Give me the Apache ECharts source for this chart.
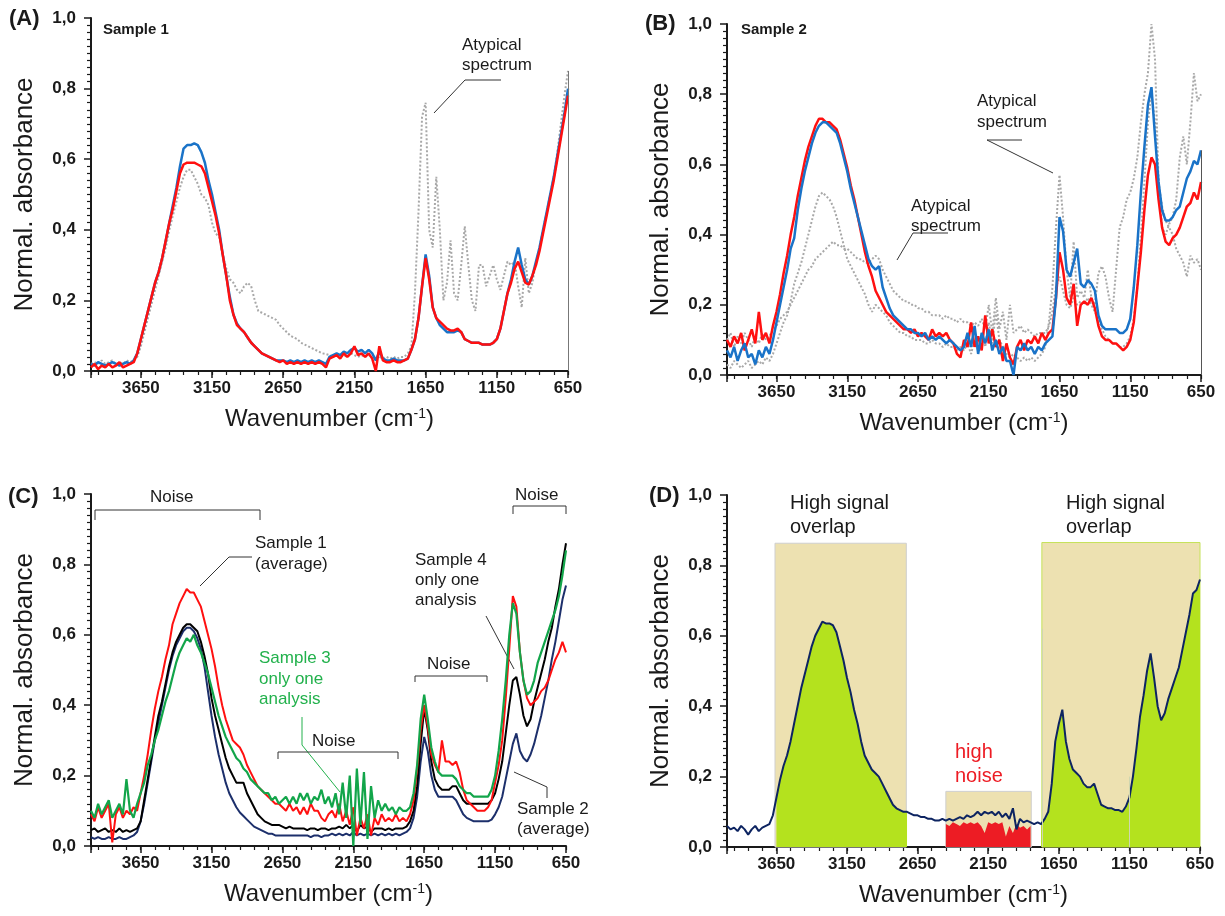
<!DOCTYPE html>
<html>
<head>
<meta charset="utf-8">
<script src="https://cdn.jsdelivr.net/npm/echarts@6/dist/echarts.min.js"></script>
<style>
html, body { margin: 0; padding: 0; background: #fff; }
#chart { width: 1225px; height: 916px; }
</style>
</head>
<body>
<div id="chart"></div>
<script>
// sampling grid of all spectra: 4000 -> 650 cm-1, every 25 cm-1
const wavenumbers = [];
for (let w = 4000; w >= 650; w -= 25) wavenumbers.push(w);

const xTicks = [650, 1150, 1650, 2150, 2650, 3150, 3650];
const yTicks = ['0,0', '0,2', '0,4', '0,6', '0,8', '1,0'];

// (A) sample 1
const aBlue = [
  0.02, 0.015, 0.025, 0.02, 0.015, 0.02, 0.025, 0.02, 0.015, 0.02, 0.025, 0.02, 0.03, 0.05, 0.09, 0.13, 0.17, 0.21, 0.25, 0.28,
  0.32, 0.37, 0.42, 0.47, 0.52, 0.58, 0.63, 0.64, 0.64, 0.645, 0.64, 0.62, 0.59, 0.54, 0.50, 0.45, 0.40, 0.33, 0.27, 0.21,
  0.16, 0.135, 0.12, 0.11, 0.095, 0.08, 0.07, 0.06, 0.05, 0.045, 0.04, 0.035, 0.03, 0.03, 0.03, 0.025, 0.03, 0.025, 0.03, 0.025,
  0.03, 0.025, 0.03, 0.025, 0.03, 0.025, 0.02, 0.04, 0.045, 0.05, 0.045, 0.055, 0.05, 0.06, 0.065, 0.055, 0.06, 0.05, 0.06, 0.05,
  0.03, 0.055, 0.035, 0.03, 0.03, 0.035, 0.03, 0.03, 0.03, 0.035, 0.06, 0.09, 0.15, 0.24, 0.33, 0.27, 0.18, 0.15, 0.13, 0.12,
  0.11, 0.11, 0.11, 0.115, 0.11, 0.09, 0.085, 0.08, 0.08, 0.08, 0.075, 0.075, 0.075, 0.08, 0.09, 0.12, 0.17, 0.22, 0.26, 0.31,
  0.35, 0.30, 0.26, 0.245, 0.27, 0.31, 0.35, 0.40, 0.45, 0.50, 0.55, 0.61, 0.67, 0.73, 0.80
];
const aRed = [
  0.01, 0.02, 0.005, 0.015, 0.01, 0.02, 0.01, 0.015, 0.025, 0.01, 0.015, 0.02, 0.025, 0.05, 0.09, 0.13, 0.17, 0.21, 0.25, 0.28,
  0.32, 0.37, 0.42, 0.46, 0.51, 0.56, 0.585, 0.59, 0.59, 0.59, 0.585, 0.58, 0.56, 0.52, 0.48, 0.44, 0.39, 0.33, 0.27, 0.20,
  0.16, 0.13, 0.12, 0.11, 0.095, 0.08, 0.07, 0.06, 0.05, 0.045, 0.04, 0.035, 0.03, 0.025, 0.03, 0.02, 0.025, 0.02, 0.025, 0.02,
  0.025, 0.02, 0.025, 0.02, 0.025, 0.02, 0.01, 0.035, 0.04, 0.045, 0.035, 0.05, 0.04, 0.05, 0.07, 0.045, 0.05, 0.04, 0.05, 0.035,
  0.0, 0.07, 0.03, 0.025, 0.025, 0.03, 0.025, 0.025, 0.03, 0.035, 0.06, 0.09, 0.15, 0.24, 0.32, 0.26, 0.18, 0.15, 0.14, 0.13,
  0.12, 0.115, 0.115, 0.12, 0.11, 0.09, 0.085, 0.08, 0.08, 0.08, 0.075, 0.075, 0.075, 0.08, 0.09, 0.12, 0.17, 0.22, 0.25, 0.29,
  0.31, 0.28, 0.25, 0.245, 0.27, 0.30, 0.34, 0.39, 0.44, 0.49, 0.54, 0.60, 0.66, 0.72, 0.78
];
const aAtypical = [
  0.02, 0.025, 0.02, 0.03, 0.02, 0.025, 0.03, 0.02, 0.025, 0.02, 0.03, 0.025, 0.03, 0.04, 0.07, 0.11, 0.15, 0.19, 0.23, 0.27,
  0.31, 0.35, 0.40, 0.44, 0.48, 0.52, 0.55, 0.57, 0.57, 0.55, 0.53, 0.50, 0.49, 0.47, 0.42, 0.39, 0.38, 0.33, 0.29, 0.26,
  0.25, 0.23, 0.22, 0.24, 0.25, 0.24, 0.20, 0.17, 0.165, 0.16, 0.155, 0.15, 0.145, 0.13, 0.12, 0.11, 0.10, 0.095, 0.09, 0.08,
  0.075, 0.07, 0.065, 0.06, 0.055, 0.05, 0.048, 0.045, 0.04, 0.045, 0.04, 0.045, 0.04, 0.05, 0.045, 0.04, 0.045, 0.04, 0.045, 0.04,
  0.035, 0.04, 0.035, 0.04, 0.035, 0.04, 0.035, 0.04, 0.04, 0.05, 0.07, 0.22, 0.45, 0.72, 0.76, 0.40, 0.35, 0.55, 0.40, 0.20,
  0.25, 0.37, 0.22, 0.20, 0.30, 0.41, 0.30, 0.20, 0.17, 0.30, 0.30, 0.24, 0.27, 0.30, 0.26, 0.23, 0.27, 0.31, 0.30, 0.31,
  0.24, 0.18, 0.32, 0.22, 0.25, 0.31, 0.35, 0.40, 0.45, 0.50, 0.55, 0.62, 0.70, 0.78, 0.85
];

// (B) sample 2
const bBlue = [
  0.07, 0.05, 0.08, 0.04, 0.07, 0.09, 0.05, 0.06, 0.03, 0.07, 0.05, 0.08, 0.06, 0.10, 0.15, 0.20, 0.25, 0.30, 0.36, 0.39,
  0.47, 0.53, 0.58, 0.62, 0.66, 0.69, 0.71, 0.72, 0.72, 0.71, 0.70, 0.69, 0.66, 0.62, 0.58, 0.53, 0.49, 0.45, 0.41, 0.37,
  0.33, 0.31, 0.30, 0.31, 0.25, 0.22, 0.19, 0.17, 0.16, 0.15, 0.14, 0.13, 0.13, 0.12, 0.12, 0.11, 0.12, 0.10, 0.11, 0.10,
  0.11, 0.10, 0.09, 0.10, 0.09, 0.08, 0.07, 0.08, 0.12, 0.08, 0.14, 0.06, 0.12, 0.09, 0.13, 0.07, 0.10, 0.06, 0.08, 0.04,
  0.04, 0.00, 0.08, 0.07, 0.09, 0.07, 0.08, 0.06, 0.08, 0.07, 0.09, 0.10, 0.11, 0.22, 0.45, 0.41, 0.30, 0.28, 0.32, 0.36,
  0.26, 0.25, 0.27, 0.26, 0.24, 0.17, 0.14, 0.13, 0.13, 0.13, 0.13, 0.12, 0.12, 0.13, 0.16, 0.25, 0.37, 0.52, 0.65, 0.77,
  0.82, 0.68, 0.55, 0.47, 0.44, 0.44, 0.45, 0.47, 0.48, 0.52, 0.56, 0.58, 0.61, 0.60, 0.64
];
const bRed = [
  0.10, 0.08, 0.11, 0.09, 0.12, 0.07, 0.10, 0.13, 0.09, 0.18, 0.10, 0.12, 0.09, 0.14, 0.18, 0.23, 0.29, 0.34, 0.40, 0.45,
  0.51, 0.56, 0.61, 0.65, 0.68, 0.71, 0.73, 0.73, 0.72, 0.72, 0.71, 0.70, 0.67, 0.63, 0.59, 0.54, 0.50, 0.45, 0.40, 0.35,
  0.31, 0.28, 0.24, 0.22, 0.20, 0.18, 0.17, 0.16, 0.15, 0.14, 0.13, 0.13, 0.12, 0.13, 0.11, 0.12, 0.11, 0.10, 0.13, 0.11,
  0.12, 0.11, 0.12, 0.10, 0.09, 0.06, 0.05, 0.10, 0.08, 0.15, 0.08, 0.11, 0.07, 0.17, 0.09, 0.13, 0.08, 0.10, 0.04, 0.09,
  0.05, 0.03, 0.08, 0.10, 0.07, 0.10, 0.09, 0.11, 0.09, 0.12, 0.10, 0.12, 0.13, 0.22, 0.35, 0.30, 0.22, 0.20, 0.26, 0.14,
  0.20, 0.21, 0.20, 0.22, 0.19, 0.14, 0.11, 0.10, 0.10, 0.09, 0.09, 0.08, 0.07, 0.08, 0.10, 0.15, 0.25, 0.35, 0.47, 0.57,
  0.62, 0.60, 0.50, 0.42, 0.38, 0.37, 0.39, 0.40, 0.42, 0.45, 0.48, 0.49, 0.52, 0.50, 0.55
];
const bAtypical1 = [
  0.03, 0.02, 0.04, 0.03, 0.02, 0.03, 0.04, 0.02, 0.03, 0.04, 0.03, 0.05, 0.04, 0.06, 0.09, 0.12, 0.15, 0.17, 0.21, 0.26,
  0.29, 0.32, 0.36, 0.40, 0.44, 0.48, 0.51, 0.52, 0.51, 0.50, 0.48, 0.45, 0.41, 0.37, 0.33, 0.31, 0.29, 0.27, 0.25, 0.23,
  0.20, 0.18, 0.20, 0.19, 0.18, 0.17, 0.15, 0.14, 0.13, 0.12, 0.12, 0.11, 0.11, 0.10, 0.10, 0.10, 0.09, 0.09, 0.10, 0.09,
  0.09, 0.08, 0.09, 0.08, 0.08, 0.07, 0.08, 0.07, 0.09, 0.06, 0.10, 0.07, 0.12, 0.08, 0.15, 0.09, 0.18, 0.10, 0.08, 0.06,
  0.05, 0.06, 0.05, 0.04, 0.05, 0.04, 0.05, 0.04, 0.05, 0.06, 0.08, 0.15, 0.25, 0.42, 0.57, 0.45, 0.30, 0.22, 0.38, 0.22,
  0.24, 0.22, 0.30, 0.22, 0.20, 0.29, 0.31, 0.28, 0.22, 0.18, 0.30, 0.42, 0.45, 0.50, 0.52, 0.56, 0.62, 0.72, 0.80, 0.86,
  1.0, 0.90, 0.55, 0.42, 0.40, 0.43, 0.45, 0.50, 0.62, 0.68, 0.60, 0.72, 0.86, 0.78, 0.80
];
const bAtypical2 = [
  0.10, 0.12, 0.08, 0.11, 0.09, 0.12, 0.10, 0.08, 0.11, 0.09, 0.12, 0.10, 0.11, 0.13, 0.14, 0.16, 0.17, 0.18, 0.20, 0.22,
  0.24, 0.26, 0.28, 0.30, 0.31, 0.33, 0.34, 0.35, 0.36, 0.37, 0.38, 0.37, 0.37, 0.36, 0.36, 0.35, 0.34, 0.33, 0.33, 0.32,
  0.32, 0.33, 0.34, 0.33, 0.30, 0.28, 0.26, 0.24, 0.23, 0.22, 0.21, 0.21, 0.20, 0.20, 0.19, 0.19, 0.18, 0.18, 0.17, 0.17,
  0.17, 0.16, 0.17, 0.16, 0.16, 0.15, 0.16, 0.15, 0.15, 0.14, 0.15, 0.14, 0.16, 0.13, 0.20, 0.12, 0.22, 0.13, 0.18, 0.10,
  0.20, 0.12, 0.13, 0.14, 0.12, 0.13, 0.12, 0.11, 0.12, 0.12, 0.12, 0.14, 0.18, 0.25, 0.28, 0.24, 0.20, 0.19, 0.22, 0.20,
  0.21, 0.20, 0.22, 0.20, 0.18, 0.16, 0.13, 0.11, 0.10, 0.09, 0.09, 0.08, 0.08, 0.09, 0.11, 0.16, 0.25, 0.40, 0.55, 0.72,
  0.80, 0.72, 0.55, 0.48, 0.44, 0.42, 0.40, 0.36, 0.34, 0.32, 0.28, 0.34, 0.32, 0.33, 0.30
];

// (C) comparison of samples
const cSample1 = [
  0.09, 0.07, 0.11, 0.08, 0.10, 0.12, 0.01, 0.09, 0.11, 0.08, 0.10, 0.09, 0.11, 0.10, 0.15, 0.20, 0.26, 0.33, 0.39, 0.44,
  0.48, 0.53, 0.57, 0.63, 0.66, 0.69, 0.71, 0.73, 0.72, 0.72, 0.70, 0.68, 0.64, 0.60, 0.56, 0.51, 0.45, 0.40, 0.36, 0.33,
  0.30, 0.29, 0.28, 0.26, 0.23, 0.21, 0.19, 0.17, 0.16, 0.15, 0.14, 0.13, 0.12, 0.12, 0.11, 0.10, 0.12, 0.10, 0.11, 0.09,
  0.11, 0.09, 0.12, 0.10, 0.10, 0.08, 0.07, 0.09, 0.10, 0.08, 0.12, 0.07, 0.10, 0.06, 0.11, 0.03, 0.08, 0.05, 0.09, 0.03,
  0.08, 0.06, 0.09, 0.07, 0.08, 0.07, 0.09, 0.07, 0.08, 0.07, 0.09, 0.13, 0.22, 0.33, 0.40, 0.34, 0.26, 0.23, 0.21, 0.30,
  0.24, 0.24, 0.23, 0.24, 0.21, 0.16, 0.13, 0.12, 0.11, 0.10, 0.10, 0.10, 0.11, 0.13, 0.18, 0.23, 0.30, 0.42, 0.56, 0.71,
  0.68, 0.55, 0.47, 0.42, 0.40, 0.41, 0.42, 0.44, 0.45, 0.47, 0.50, 0.53, 0.55, 0.58, 0.55
];
const cSample4 = [
  0.045, 0.05, 0.04, 0.045, 0.05, 0.04, 0.045, 0.04, 0.05, 0.04, 0.045, 0.04, 0.045, 0.05, 0.07, 0.13, 0.19, 0.25, 0.31, 0.37,
  0.41, 0.46, 0.51, 0.55, 0.58, 0.60, 0.62, 0.63, 0.63, 0.62, 0.61, 0.58, 0.54, 0.49, 0.42, 0.37, 0.33, 0.29, 0.25, 0.22,
  0.20, 0.18, 0.18, 0.18, 0.15, 0.13, 0.11, 0.09, 0.08, 0.07, 0.065, 0.06, 0.06, 0.06, 0.055, 0.05, 0.055, 0.05, 0.05, 0.05,
  0.05, 0.045, 0.05, 0.05, 0.045, 0.05, 0.05, 0.045, 0.05, 0.05, 0.055, 0.05, 0.06, 0.05, 0.06, 0.04, 0.06, 0.05, 0.055, 0.04,
  0.05, 0.05, 0.05, 0.045, 0.05, 0.045, 0.05, 0.05, 0.05, 0.055, 0.07, 0.10, 0.17, 0.29, 0.39, 0.33, 0.24, 0.19, 0.17, 0.16,
  0.16, 0.16, 0.17, 0.17, 0.15, 0.13, 0.12, 0.12, 0.12, 0.12, 0.12, 0.12, 0.12, 0.13, 0.15, 0.19, 0.24, 0.32, 0.40, 0.47,
  0.48, 0.43, 0.37, 0.34, 0.36, 0.41, 0.45, 0.49, 0.53, 0.58, 0.62, 0.68, 0.73, 0.80, 0.86
];
const cSample2 = [
  0.025, 0.02, 0.025, 0.02, 0.02, 0.025, 0.02, 0.02, 0.025, 0.02, 0.02, 0.025, 0.03, 0.04, 0.07, 0.12, 0.18, 0.24, 0.30, 0.35,
  0.40, 0.45, 0.50, 0.54, 0.57, 0.59, 0.61, 0.62, 0.62, 0.61, 0.59, 0.56, 0.51, 0.44, 0.37, 0.31, 0.26, 0.22, 0.18, 0.15,
  0.13, 0.11, 0.095, 0.085, 0.075, 0.065, 0.055, 0.05, 0.045, 0.04, 0.035, 0.035, 0.03, 0.03, 0.03, 0.03, 0.03, 0.03, 0.03, 0.03,
  0.03, 0.03, 0.025, 0.03, 0.03, 0.025, 0.03, 0.03, 0.035, 0.03, 0.035, 0.03, 0.035, 0.03, 0.04, 0.03, 0.035, 0.03, 0.035, 0.03,
  0.035, 0.03, 0.035, 0.03, 0.035, 0.03, 0.035, 0.03, 0.035, 0.04, 0.05, 0.08, 0.14, 0.24, 0.31, 0.27, 0.20, 0.16, 0.14, 0.14,
  0.14, 0.14, 0.14, 0.13, 0.11, 0.09, 0.08, 0.075, 0.07, 0.07, 0.07, 0.07, 0.07, 0.075, 0.09, 0.11, 0.14, 0.19, 0.24, 0.29,
  0.32, 0.27, 0.25, 0.24, 0.26, 0.29, 0.33, 0.37, 0.42, 0.47, 0.53, 0.58, 0.64, 0.70, 0.74
];
const cSample3 = [
  0.10, 0.08, 0.12, 0.09, 0.11, 0.13, 0.08, 0.10, 0.12, 0.09, 0.19, 0.10, 0.08, 0.12, 0.15, 0.18, 0.23, 0.26, 0.30, 0.33,
  0.37, 0.41, 0.44, 0.48, 0.52, 0.55, 0.57, 0.59, 0.58, 0.60, 0.57, 0.55, 0.52, 0.49, 0.45, 0.41, 0.37, 0.34, 0.31, 0.29,
  0.27, 0.25, 0.24, 0.22, 0.21, 0.19, 0.18, 0.17, 0.16, 0.15, 0.15, 0.13, 0.14, 0.12, 0.13, 0.14, 0.12, 0.14, 0.12, 0.15,
  0.13, 0.15, 0.12, 0.14, 0.13, 0.16, 0.12, 0.14, 0.11, 0.15, 0.09, 0.18, 0.08, 0.20, 0.00, 0.22, 0.06, 0.21, 0.02, 0.17,
  0.08, 0.13, 0.10, 0.12, 0.10, 0.11, 0.09, 0.11, 0.10, 0.10, 0.11, 0.15, 0.23, 0.36, 0.43, 0.36, 0.28, 0.24, 0.21, 0.20,
  0.20, 0.20, 0.20, 0.19, 0.17, 0.16, 0.15, 0.15, 0.14, 0.14, 0.14, 0.14, 0.14, 0.16, 0.20, 0.27, 0.36, 0.47, 0.60, 0.69,
  0.66, 0.55, 0.47, 0.43, 0.44, 0.47, 0.52, 0.55, 0.58, 0.61, 0.64, 0.67, 0.71, 0.77, 0.84
];

// (D) reference spectrum with the overlap / noise regions
const dSpectrum = [
  0.06, 0.05, 0.055, 0.045, 0.06, 0.05, 0.035, 0.05, 0.06, 0.045, 0.055, 0.06, 0.065, 0.09, 0.14, 0.19, 0.23, 0.26, 0.30, 0.35,
  0.40, 0.45, 0.49, 0.53, 0.57, 0.60, 0.62, 0.64, 0.635, 0.635, 0.63, 0.61, 0.57, 0.53, 0.48, 0.44, 0.39, 0.35, 0.30, 0.26,
  0.24, 0.22, 0.21, 0.20, 0.18, 0.16, 0.14, 0.12, 0.11, 0.105, 0.10, 0.10, 0.095, 0.09, 0.09, 0.085, 0.085, 0.08, 0.08, 0.075,
  0.075, 0.08, 0.075, 0.08, 0.075, 0.08, 0.085, 0.08, 0.09, 0.085, 0.09, 0.10, 0.09, 0.10, 0.095, 0.10, 0.09, 0.10, 0.085, 0.095,
  0.08, 0.11, 0.05, 0.08, 0.07, 0.075, 0.07, 0.065, 0.07, 0.065, 0.08, 0.10, 0.18, 0.30, 0.35, 0.39, 0.30, 0.25, 0.22, 0.21,
  0.20, 0.18, 0.17, 0.17, 0.18, 0.15, 0.12, 0.115, 0.11, 0.11, 0.105, 0.105, 0.10, 0.115, 0.14, 0.20, 0.28, 0.37, 0.43, 0.50,
  0.55, 0.48, 0.40, 0.36, 0.38, 0.42, 0.45, 0.48, 0.51, 0.56, 0.61, 0.66, 0.72, 0.73, 0.76
];
// red "high noise" fill, 2450 -> 1850 cm-1
const dNoiseFill = [
  0.065, 0.06, 0.07, 0.065, 0.06, 0.07, 0.065, 0.07, 0.065, 0.07, 0.06, 0.04, 0.07,
  0.065, 0.07, 0.065, 0.07, 0.03, 0.06, 0.04, 0.065, 0.055, 0.06, 0.05, 0.06
];
// shaded boxes [from, to, top]
const dBoxes = [[3660, 2730, 0.863], [2450, 1845, 0.158], [1770, 650, 0.865]];

const FONT = '"Liberation Sans", Arial, sans-serif';
const INK = '#1a1a1a';

const grids = [
  { left: 91, top: 18, width: 477, height: 353 },
  { left: 727, top: 24, width: 474, height: 351 },
  { left: 91, top: 494, width: 475, height: 352 },
  { left: 727, top: 495, width: 473, height: 352 }
];

const xAxes = [];
const yAxes = [];
grids.forEach(function (g, i) {
  xAxes.push({
    gridIndex: i, type: 'value', position: 'bottom', min: 650, max: 4000, interval: 500, inverse: true,
    axisLine: { lineStyle: { color: INK, width: 2 } },
    axisTick: { length: 7, lineStyle: { color: INK, width: 1.5 } },
    axisLabel: {
      margin: 9, color: INK, fontWeight: 'bold', fontSize: 17, fontFamily: FONT,
      formatter: function (v) { return xTicks.indexOf(v) >= 0 ? String(v) : ''; }
    },
    splitLine: { show: false },
    name: '{t|Wavenumber (cm}{s|-1}{t|)}', nameLocation: 'middle', nameGap: 36,
    nameTextStyle: {
      rich: {
        t: { fontSize: 24, fontFamily: FONT, color: INK },
        s: { fontSize: 14, fontFamily: FONT, color: INK, verticalAlign: 'top' }
      }
    }
  });
  // short ticks every 100 cm-1
  xAxes.push({
    gridIndex: i, type: 'value', position: 'bottom', min: 650, max: 4000, interval: 100, inverse: true,
    axisLine: { show: false },
    axisTick: { length: 4, lineStyle: { color: INK, width: 1.2 } },
    axisLabel: { show: false },
    splitLine: { show: false }
  });
  yAxes.push({
    gridIndex: i, type: 'value', min: 0, max: 1, interval: 0.2,
    axisLine: { show: true, lineStyle: { color: INK, width: 2 } },
    axisTick: { show: true, length: 7, lineStyle: { color: INK, width: 1.5 } },
    minorTick: { show: true, splitNumber: 10, length: 4, lineStyle: { color: INK, width: 1.2 } },
    axisLabel: {
      margin: 15, color: INK, fontWeight: 'bold', fontSize: 17, fontFamily: FONT,
      formatter: function (v) { return yTicks[Math.round(v * 5)]; }
    },
    splitLine: { show: false },
    name: 'Normal. absorbance', nameLocation: 'middle', nameGap: 53,
    nameTextStyle: { fontSize: 26, fontFamily: FONT, color: INK }
  });
});

function spectrum(panel, values, color, width, extra) {
  return Object.assign({
    type: 'line', xAxisIndex: panel * 2, yAxisIndex: panel,
    data: wavenumbers.map(function (w, k) { return [w, values[k]]; }),
    showSymbol: false, symbol: 'none', silent: true,
    lineStyle: { color: color, width: width }
  }, extra || {});
}

function segment(x, y0, y1, color) {
  return {
    silent: true, symbol: ['none', 'none'], label: { show: false },
    lineStyle: { color: color, width: 1, type: 'solid' },
    data: [[{ coord: [x, y0] }, { coord: [x, y1] }]]
  };
}

const dGreenLeft = wavenumbers.slice(14, 52).map(function (w, k) { return [w, dSpectrum[14 + k]]; });
const dGreenRight = wavenumbers.slice(89).map(function (w, k) { return [w, dSpectrum[89 + k]]; });
const dNoise = wavenumbers.slice(62, 87).map(function (w, k) { return [w, dNoiseFill[k]]; });

const dotted = { color: '#a8a8a8', width: 2, type: 'dotted' };

const series = [
  spectrum(0, aAtypical, '#a8a8a8', 2, { lineStyle: dotted, markLine: segment(650, 0, 0.85, '#777') }),
  spectrum(0, aBlue, '#1a73c8', 2.5),
  spectrum(0, aRed, '#ff1010', 2.5),

  spectrum(1, bAtypical2, '#a8a8a8', 2, { lineStyle: dotted }),
  spectrum(1, bAtypical1, '#a8a8a8', 2, { lineStyle: dotted, markLine: segment(650, 0, 0.64, '#555') }),
  spectrum(1, bRed, '#ff1010', 2.5),
  spectrum(1, bBlue, '#1a73c8', 2.5),

  spectrum(2, cSample2, '#1c2f6b', 2),
  spectrum(2, cSample4, '#000000', 2),
  spectrum(2, cSample1, '#ff1010', 2),
  spectrum(2, cSample3, '#12a54a', 2.2),

  {
    type: 'line', xAxisIndex: 6, yAxisIndex: 3, data: [], silent: true, z: 1,
    markArea: {
      silent: true,
      data: dBoxes.map(function (b, k) {
        return [
          { coord: [b[0], 0], itemStyle: { color: '#ede1b1', borderColor: k === 2 ? '#c6e25a' : '#cfcfcf', borderWidth: 1 } },
          { coord: [b[1], b[2]] }
        ];
      })
    },
    markLine: {
      silent: true, symbol: ['none', 'none'], label: { show: false },
      lineStyle: { color: '#cfd6b0', width: 1, type: 'solid' },
      data: [
        [{ coord: [1770, 0] }, { coord: [1770, 0.62] }],
        [{ coord: [1150, 0] }, { coord: [1150, 0.2] }]
      ]
    }
  },
  { type: 'line', xAxisIndex: 6, yAxisIndex: 3, data: dGreenLeft, showSymbol: false, symbol: 'none', silent: true, z: 2, lineStyle: { width: 0 }, areaStyle: { color: '#b4e21e', opacity: 1 } },
  { type: 'line', xAxisIndex: 6, yAxisIndex: 3, data: dGreenRight, showSymbol: false, symbol: 'none', silent: true, z: 2, lineStyle: { width: 0 }, areaStyle: { color: '#b4e21e', opacity: 1 } },
  { type: 'line', xAxisIndex: 6, yAxisIndex: 3, data: dNoise, showSymbol: false, symbol: 'none', silent: true, z: 2, lineStyle: { width: 0 }, areaStyle: { color: '#ed1c24', opacity: 1 } },
  spectrum(3, dSpectrum, '#0d2461', 2, { z: 3 })
];

function txt(x, y, text, size, opts) {
  opts = opts || {};
  return {
    type: 'text', x: x, y: y, silent: true,
    style: {
      text: text, fill: opts.color || INK, verticalAlign: 'middle',
      font: (opts.bold ? 'bold ' : '') + size + 'px ' + FONT,
      lineHeight: opts.lh || size + 4
    }
  };
}
function leader(points, color) {
  return { type: 'polyline', silent: true, shape: { points: points }, style: { stroke: color || '#333', lineWidth: 1, fill: null } };
}

const graphics = [
  txt(9, 19, '(A)', 22, { bold: true }),
  txt(103, 30, 'Sample 1', 15, { bold: true }),
  txt(462, 55, 'Atypical\nspectrum', 17, { lh: 20 }),
  leader([[501, 80], [465, 80], [434, 113]]),

  txt(645, 24, '(B)', 22, { bold: true }),
  txt(741, 30, 'Sample 2', 15, { bold: true }),
  txt(977, 112, 'Atypical\nspectrum', 17, { lh: 21 }),
  leader([[1022, 140], [987, 140], [1053, 173]]),
  txt(911, 216, 'Atypical\nspectrum', 17, { lh: 20 }),
  leader([[948, 233], [913, 233], [897, 260]]),

  txt(8, 497, '(C)', 22, { bold: true }),
  txt(150, 497, 'Noise', 17),
  leader([[95, 520], [95, 510], [260, 510], [260, 520]]),
  txt(515, 495, 'Noise', 17),
  leader([[513, 514], [513, 506], [566, 506], [566, 514]]),
  txt(255, 554, 'Sample 1\n(average)', 17, { lh: 21 }),
  leader([[252, 557], [229, 557], [200, 586]]),
  txt(259, 679, 'Sample 3\nonly one\nanalysis', 17, { lh: 20.5, color: '#22b14c' }),
  leader([[302, 717], [302, 745], [340, 792]], '#22b14c'),
  txt(312, 741, 'Noise', 17),
  leader([[278, 759], [278, 752], [398, 752], [398, 759]]),
  txt(427, 664, 'Noise', 17),
  leader([[415, 682], [415, 676], [487, 676], [487, 682]]),
  txt(415, 580, 'Sample 4\nonly one\nanalysis', 17, { lh: 20 }),
  leader([[486, 616], [514, 669]]),
  txt(517, 819, 'Sample 2\n(average)', 17, { lh: 20 }),
  leader([[514, 772], [547, 787], [547, 798]]),

  txt(649, 496, '(D)', 22, { bold: true }),
  txt(790, 515, 'High signal\noverlap', 20, { lh: 24 }),
  txt(1066, 515, 'High signal\noverlap', 20, { lh: 24 }),
  txt(955, 764, 'high\nnoise', 20, { lh: 24, color: '#ed1c24' })
];

const chart = echarts.init(document.getElementById('chart'), null, { renderer: 'canvas' });
chart.setOption({
  backgroundColor: '#ffffff',
  animation: false,
  grid: grids,
  xAxis: xAxes,
  yAxis: yAxes,
  series: series,
  graphic: graphics
});
</script>
</body>
</html>
